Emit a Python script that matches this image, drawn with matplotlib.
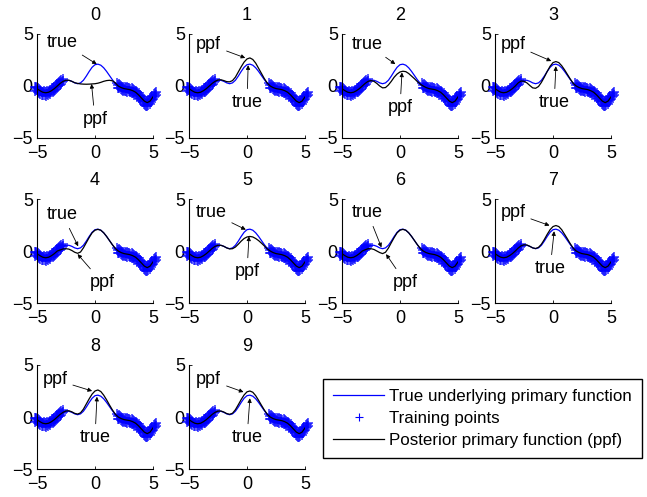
import numpy as np
import matplotlib
matplotlib.use("Agg")
import matplotlib.pyplot as plt
from matplotlib.lines import Line2D

plt.rcParams['font.family'] = ['Liberation Sans', 'DejaVu Sans']
plt.rcParams['font.size'] = 10.5

# grille commune des courbes
x = np.arange(-5.0, 5.0001, 0.25)

# fonction primaire vraie
true_f = [-0.25, -0.45, -0.60, -0.65, -0.60, -0.45, -0.25, 0.00, 0.25, 0.45,
          0.55, 0.55, 0.45, 0.30, 0.22, 0.30, 0.55, 0.95, 1.40, 1.80,
          2.05, 2.10, 2.00, 1.75, 1.40, 1.00, 0.60, 0.25, 0.00, -0.15,
          -0.25, -0.30, -0.35, -0.45, -0.60, -0.85, -1.15, -1.45, -1.60, -1.45,
          -1.05]

# ppf sur la zone sans données, x de -3 à 2 (pas 0.25)
ppf_mid = [
    [0.25, 0.45, 0.55, 0.55, 0.45, 0.32, 0.25, 0.20, 0.18, 0.17, 0.18,
     0.20, 0.22, 0.27, 0.35, 0.45, 0.52, 0.55, 0.50, 0.30, 0.00],
    [0.25, 0.45, 0.58, 0.60, 0.52, 0.42, 0.40, 0.52, 0.85, 1.35, 1.85,
     2.30, 2.60, 2.70, 2.55, 2.20, 1.70, 1.20, 0.70, 0.28, 0.00],
    [0.25, 0.45, 0.52, 0.45, 0.25, 0.00, -0.18, -0.15, 0.10, 0.45, 0.85,
     1.15, 1.35, 1.42, 1.38, 1.20, 0.95, 0.70, 0.42, 0.18, 0.00],
    [0.30, 0.48, 0.45, 0.30, 0.05, -0.18, -0.22, -0.05, 0.35, 0.85, 1.40,
     1.90, 2.25, 2.35, 2.25, 1.95, 1.55, 1.10, 0.65, 0.25, 0.00],
    [0.10, 0.20, 0.22, 0.18, 0.05, -0.12, -0.22, -0.10, 0.30, 0.80, 1.30,
     1.75, 2.00, 2.08, 2.00, 1.75, 1.40, 1.00, 0.60, 0.25, 0.00],
    [0.25, 0.45, 0.55, 0.55, 0.45, 0.30, 0.20, 0.22, 0.38, 0.65, 0.95,
     1.20, 1.35, 1.40, 1.35, 1.20, 1.00, 0.75, 0.48, 0.20, 0.00],
    [0.12, 0.22, 0.22, 0.15, 0.00, -0.15, -0.25, -0.12, 0.28, 0.80, 1.30,
     1.75, 2.00, 2.08, 2.00, 1.75, 1.40, 1.00, 0.60, 0.25, 0.00],
    [0.28, 0.50, 0.60, 0.58, 0.45, 0.30, 0.24, 0.35, 0.65, 1.10, 1.60,
     2.05, 2.35, 2.45, 2.35, 2.05, 1.60, 1.15, 0.68, 0.27, 0.00],
    [0.25, 0.45, 0.58, 0.60, 0.50, 0.35, 0.28, 0.40, 0.75, 1.25, 1.75,
     2.20, 2.50, 2.60, 2.45, 2.10, 1.65, 1.15, 0.68, 0.27, 0.00],
    [0.25, 0.45, 0.57, 0.58, 0.48, 0.33, 0.26, 0.36, 0.70, 1.18, 1.68,
     2.12, 2.42, 2.50, 2.38, 2.05, 1.60, 1.12, 0.66, 0.26, 0.00],
]

# points d'apprentissage
train_x = [-5.20, -5.15, -5.10, -5.05, -5.00, -4.95, -4.90, -4.85, -4.80, -4.75,
           -4.70, -4.65, -4.60, -4.55, -4.50, -4.45, -4.40, -4.35, -4.30, -4.25,
           -4.20, -4.15, -4.10, -4.05, -4.00, -3.95, -3.90, -3.85, -3.80, -3.75,
           -3.70, -3.65, -3.60, -3.55, -3.50, -3.45, -3.40, -3.35, -3.30, -3.25,
           -3.20, -3.15, -3.10, -3.05, -3.00, -2.95, -2.90, -2.85, -2.80, -2.75,
           1.90, 1.95, 2.00, 2.05, 2.10, 2.15, 2.20, 2.25, 2.30, 2.35,
           2.40, 2.45, 2.50, 2.55, 2.60, 2.65, 2.70, 2.75, 2.80, 2.85,
           2.90, 2.95, 3.00, 3.05, 3.10, 3.15, 3.20, 3.25, 3.30, 3.35,
           3.40, 3.45, 3.50, 3.55, 3.60, 3.65, 3.70, 3.75, 3.80, 3.85,
           3.90, 3.95, 4.00, 4.05, 4.10, 4.15, 4.20, 4.25, 4.30, 4.35,
           4.40, 4.45, 4.50, 4.55, 4.60, 4.65, 4.70, 4.75, 4.80, 4.85,
           4.90, 4.95, 5.00, 5.05, 5.10, 5.15, 5.20, 5.25, 5.30]
train_y = [-0.10, -0.45, -0.20, -0.05, -0.40, -0.15, -0.55, -0.30, -0.65, -0.40,
           -0.75, -0.50, -0.85, -0.55, -0.90, -0.60, -0.50, -0.85, -0.55, -0.95,
           -0.60, -0.80, -0.45, -0.85, -0.50, -0.70, -0.35, -0.75, -0.40, -0.60,
           -0.20, -0.55, -0.15, -0.45, -0.05, -0.35, 0.05, -0.25, 0.15, -0.10,
           0.25, 0.00, 0.40, 0.10, 0.50, 0.20, 0.60, 0.35, 0.70, 0.45,
           0.30, 0.05, -0.15, 0.15, -0.20, 0.05, -0.30, 0.00, -0.35, -0.05,
           -0.45, -0.10, -0.40, -0.05, -0.50, -0.15, -0.45, -0.10, -0.55, -0.20,
           -0.50, -0.15, -0.60, -0.25, -0.55, -0.20, -0.70, -0.30, -0.65, -0.35,
           -0.85, -0.45, -0.80, -0.50, -1.00, -0.60, -1.00, -0.70, -1.20, -0.85,
           -1.25, -0.95, -1.45, -1.10, -1.55, -1.25, -1.75, -1.35, -1.85, -1.45,
           -1.95, -1.55, -1.90, -1.45, -1.85, -1.35, -1.70, -1.25, -1.55, -1.10,
           -1.30, -0.95, -1.25, -0.80, -1.05, -0.70, -0.95, -0.60, -0.85]

# étiquettes des flèches : (texte, xy texte, xy pointe)
notes = [
    [("true", (-2.85, 4.2), (0.15, 2.1)), ("ppf", (0.0, -3.2), (-0.3, 0.2))],
    [("ppf", (-3.3, 4.0), (-0.15, 2.7)), ("true", (0.0, -1.6), (0.1, 2.0))],
    [("true", (-2.8, 4.0), (-0.4, 2.1)), ("ppf", (0.0, -2.1), (0.17, 1.3))],
    [("ppf", (-3.45, 4.0), (-0.15, 2.4)), ("true", (0.1, -1.6), (0.25, 1.9))],
    [("true", (-2.8, 3.5), (-1.45, 0.45)), ("ppf", (0.6, -3.0), (-1.5, -0.3))],
    [("true", (-3.1, 3.7), (-0.1, 2.05)), ("ppf", (0.0, -2.0), (0.17, 1.4))],
    [("true", (-2.8, 3.7), (-1.6, 0.35)), ("ppf", (0.45, -3.0), (-1.2, -0.3))],
    [("ppf", (-3.45, 3.7), (-0.3, 2.45)), ("true", (-0.25, -1.7), (0.1, 1.9))],
    [("ppf", (-3.45, 3.6), (-0.25, 2.5)), ("true", (0.0, -2.0), (0.17, 1.95))],
    [("ppf", (-3.3, 3.6), (-0.3, 2.4)), ("true", (0.0, -2.0), (0.25, 1.8))],
]

W, H = 647.0, 497.0
col_left = [37, 189, 342, 495]
row_top = [34, 199, 365]
ax_w, ax_h = 116, 104

fig = plt.figure(figsize=(6.47, 4.97), dpi=100)

i_lo = 8    # indice de x = -3
i_hi = 28   # indice de x = 2
for k in range(10):
    r, c = divmod(k, 4)
    ax = fig.add_axes([col_left[c] / W, 1 - (row_top[r] + ax_h) / H, ax_w / W, ax_h / H])
    ppf = list(true_f)
    ppf[i_lo:i_hi + 1] = ppf_mid[k]
    ax.plot(train_x, train_y, '+', color=(0, 0, 1), ms=7, mew=1.2, alpha=0.75, clip_on=False)
    ax.plot(x, true_f, color=(0, 0, 1), lw=0.9)
    ax.plot(x, ppf, color='k', lw=0.9)
    ax.set_xlim(-5, 5)
    ax.set_ylim(-5, 5)
    ax.set_xticks([-5, 0, 5])
    ax.set_yticks([-5, 0, 5])
    ax.tick_params(direction='in', length=2.5, width=0.6, labelsize=13)
    ax.tick_params(axis='x', pad=5)
    ax.tick_params(axis='y', pad=3)
    for s in ['top', 'right']:
        ax.spines[s].set_visible(False)
    for s in ['left', 'bottom']:
        ax.spines[s].set_linewidth(0.8)
    ax.set_title(str(k), fontsize=13, pad=10)
    for txt, pt, tip in notes[k]:
        ax.annotate(txt, xy=tip, xytext=pt, ha='center', va='center', fontsize=13,
                    arrowprops=dict(arrowstyle='-|>', color='k', lw=0.6,
                                    mutation_scale=6, shrinkA=2, shrinkB=0))

handles = [Line2D([], [], color=(0, 0, 1), lw=0.9),
           Line2D([], [], ls='none', marker='+', color=(0, 0, 1), ms=6, mew=0.8),
           Line2D([], [], color='k', lw=0.9)]
labels = ['True underlying primary function', 'Training points',
          'Posterior primary function (ppf)']
fig.legend(handles, labels, loc='upper left', bbox_to_anchor=(323 / W, 1 - 379 / H),
           fontsize=12.2, frameon=True, fancybox=False, edgecolor='k', framealpha=1,
           borderpad=0.6, labelspacing=0.4, handlelength=3.0, handletextpad=0.3,
           borderaxespad=0)

fig.savefig("out.png", dpi=100)
